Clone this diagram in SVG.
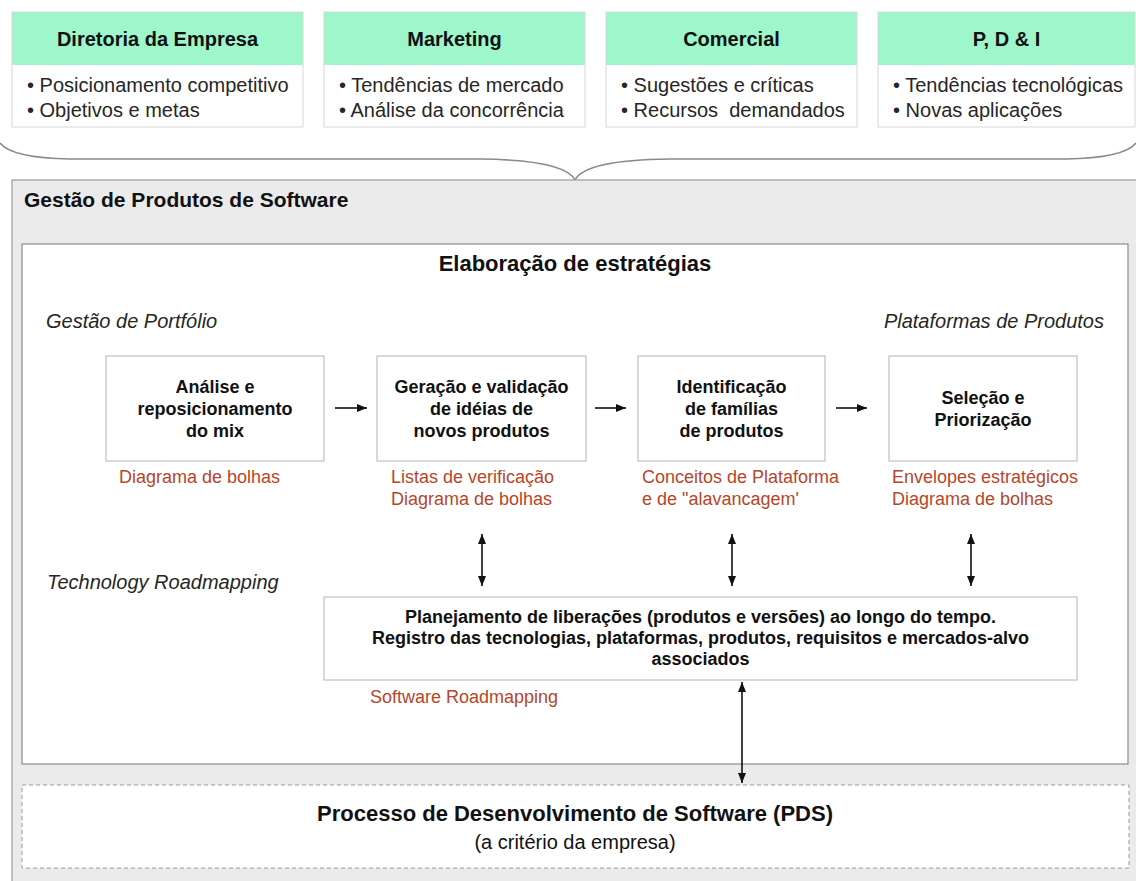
<svg xmlns="http://www.w3.org/2000/svg" width="1136" height="881" viewBox="0 0 1136 881">
  <style>
    text { font-family: "Liberation Sans", Arial, sans-serif; fill: #111; }
    .hdr { font-size: 20px; font-weight: bold; text-anchor: middle; }
    .bul { font-size: 20px; fill: #262626; }
    .card-head { fill: #9df7cb; }
    .card-body { fill: #ffffff; }
    .card-frame { fill: none; stroke: #d8d8d8; stroke-width: 1; }
    .step { fill: #ffffff; stroke: #b4b4b4; stroke-width: 1; }
    .step-text { font-size: 18px; font-weight: bold; text-anchor: middle; }
    .tool { font-size: 18px; fill: #b5462a; }
    .ital { font-size: 20px; font-style: italic; fill: #262626; }
    .flow { stroke: #111; stroke-width: 1.6; fill: none; }
  </style>
  <defs>
    <marker id="head" markerUnits="userSpaceOnUse" markerWidth="10" markerHeight="8" refX="10" refY="4" orient="auto-start-reverse">
      <path d="M0,0 L10,4 L0,8 z" fill="#111"/>
    </marker>
  </defs>

  <rect x="0" y="0" width="1136" height="881" fill="#ffffff"/>

  <!-- input sources -->
  <g id="diretoria">
    <rect class="card-head" x="12" y="12" width="291" height="53"/>
    <rect class="card-body" x="12" y="65" width="291" height="62"/>
    <rect class="card-frame" x="12" y="12" width="291" height="115"/>
    <text class="hdr" x="157.5" y="46">Diretoria da Empresa</text>
    <text class="bul" x="27" y="92">• Posicionamento competitivo</text>
    <text class="bul" x="27" y="117">• Objetivos e metas</text>
  </g>
  <g id="marketing">
    <rect class="card-head" x="324" y="12" width="261" height="53"/>
    <rect class="card-body" x="324" y="65" width="261" height="62"/>
    <rect class="card-frame" x="324" y="12" width="261" height="115"/>
    <text class="hdr" x="454.5" y="46">Marketing</text>
    <text class="bul" x="339" y="92">• Tendências de mercado</text>
    <text class="bul" x="339" y="117">• Análise da concorrência</text>
  </g>
  <g id="comercial">
    <rect class="card-head" x="606" y="12" width="251" height="53"/>
    <rect class="card-body" x="606" y="65" width="251" height="62"/>
    <rect class="card-frame" x="606" y="12" width="251" height="115"/>
    <text class="hdr" x="731.5" y="46">Comercial</text>
    <text class="bul" x="621" y="92">• Sugestões e críticas</text>
    <text class="bul" x="621" y="117">• Recursos&#160; demandados</text>
  </g>
  <g id="pdi">
    <rect class="card-head" x="878" y="12" width="257" height="53"/>
    <rect class="card-body" x="878" y="65" width="257" height="62"/>
    <rect class="card-frame" x="878" y="12" width="257" height="115"/>
    <text class="hdr" x="1006.5" y="46">P, D &amp; I</text>
    <text class="bul" x="893" y="92">• Tendências tecnológicas</text>
    <text class="bul" x="893" y="117">• Novas aplicações</text>
  </g>

  <!-- brace gathering the sources -->
  <path id="brace" d="M0,143 Q12,158 70,159 L480,159 Q565,160 575,180 Q585,160 670,159 L1066,159 Q1124,158 1136,143" fill="none" stroke="#8a8a8a" stroke-width="1.6"/>

  <!-- software product management area -->
  <g id="gestao">
    <rect x="12" y="180" width="1140" height="720" fill="#ebebeb" stroke="#9a9a9a" stroke-width="1.2"/>
    <text x="24" y="207" font-size="21" font-weight="bold">Gestão de Produtos de Software</text>
  </g>

  <g id="estrategias">
    <rect x="22" y="244" width="1106" height="520" fill="#ffffff" stroke="#8c8c8c" stroke-width="1.2"/>
    <text x="575" y="271" font-size="22" font-weight="bold" text-anchor="middle">Elaboração de estratégias</text>
    <text class="ital" x="46" y="328">Gestão de Portfólio</text>
    <text class="ital" x="1104" y="328" text-anchor="end">Plataformas de Produtos</text>
    <text class="ital" x="47" y="589">Technology Roadmapping</text>
  </g>

  <g id="analise">
    <rect class="step" x="106" y="356" width="218" height="105"/>
    <text class="step-text" x="215" y="393">Análise e</text>
    <text class="step-text" x="215" y="415">reposicionamento</text>
    <text class="step-text" x="215" y="437">do mix</text>
    <text class="tool" x="119" y="483">Diagrama de bolhas</text>
  </g>
  <g id="geracao">
    <rect class="step" x="377" y="356" width="209" height="105"/>
    <text class="step-text" x="481.5" y="393">Geração e validação</text>
    <text class="step-text" x="481.5" y="415">de idéias de</text>
    <text class="step-text" x="481.5" y="437">novos produtos</text>
    <text class="tool" x="391" y="483">Listas de verificação</text>
    <text class="tool" x="391" y="505">Diagrama de bolhas</text>
  </g>
  <g id="familias">
    <rect class="step" x="638" y="356" width="187" height="105"/>
    <text class="step-text" x="731.5" y="393">Identificação</text>
    <text class="step-text" x="731.5" y="415">de famílias</text>
    <text class="step-text" x="731.5" y="437">de produtos</text>
    <text class="tool" x="642" y="483">Conceitos de Plataforma</text>
    <text class="tool" x="642" y="505">e de "alavancagem'</text>
  </g>
  <g id="selecao">
    <rect class="step" x="889" y="356" width="188" height="105"/>
    <text class="step-text" x="983" y="404">Seleção e</text>
    <text class="step-text" x="983" y="426">Priorização</text>
    <text class="tool" x="892" y="483">Envelopes estratégicos</text>
    <text class="tool" x="892" y="505">Diagrama de bolhas</text>
  </g>

  <g id="roadmap">
    <rect class="step" x="324" y="597" width="753" height="83"/>
    <text class="step-text" x="700.5" y="623">Planejamento de liberações (produtos e versões) ao longo do tempo.</text>
    <text class="step-text" x="700.5" y="644">Registro das tecnologias, plataformas, produtos, requisitos e mercados-alvo</text>
    <text class="step-text" x="700.5" y="665">associados</text>
    <text class="tool" x="370" y="703">Software Roadmapping</text>
  </g>

  <g id="pds">
    <rect x="22" y="785" width="1107" height="83" fill="#ffffff" stroke="#9a9a9a" stroke-width="1" stroke-dasharray="4 3"/>
    <text x="575" y="821" font-size="22" font-weight="bold" text-anchor="middle">Processo de Desenvolvimento de Software (PDS)</text>
    <text x="575" y="849" font-size="20" text-anchor="middle" fill="#262626">(a critério da empresa)</text>
  </g>

  <!-- connectors -->
  <g id="connectors">
    <line class="flow" x1="335" y1="408" x2="367" y2="408" marker-end="url(#head)"/>
    <line class="flow" x1="595" y1="408" x2="626" y2="408" marker-end="url(#head)"/>
    <line class="flow" x1="836" y1="408" x2="867" y2="408" marker-end="url(#head)"/>
    <line class="flow" x1="482" y1="534" x2="482" y2="586" marker-start="url(#head)" marker-end="url(#head)"/>
    <line class="flow" x1="732" y1="534" x2="732" y2="586" marker-start="url(#head)" marker-end="url(#head)"/>
    <line class="flow" x1="971" y1="534" x2="971" y2="586" marker-start="url(#head)" marker-end="url(#head)"/>
    <line class="flow" x1="742" y1="682" x2="742" y2="783" marker-start="url(#head)" marker-end="url(#head)"/>
  </g>
</svg>
